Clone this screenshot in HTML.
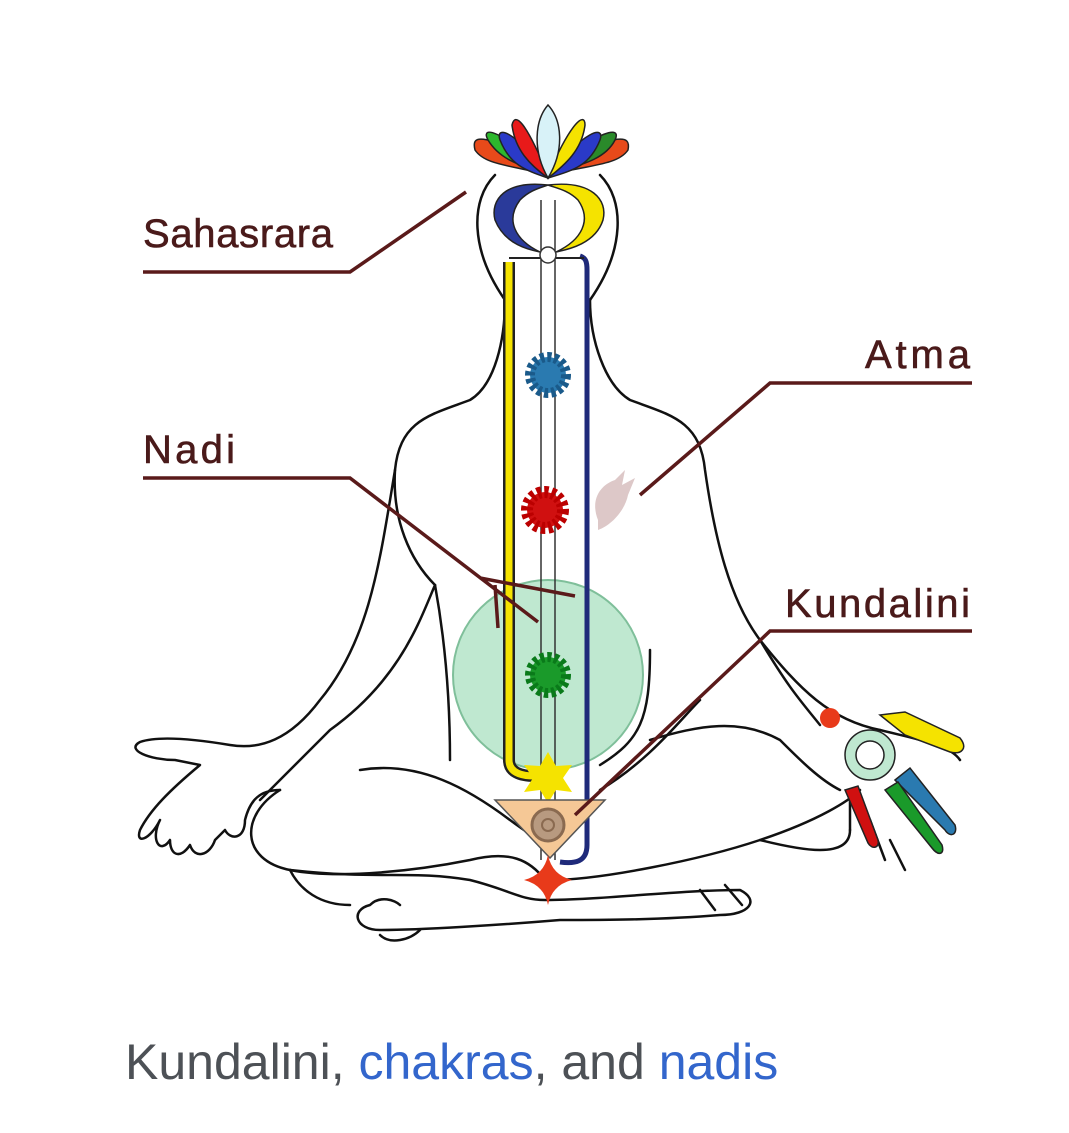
<!DOCTYPE html>
<html><head><meta charset="utf-8"><style>
html,body{margin:0;padding:0;background:#fff;width:1069px;height:1133px;overflow:hidden}
svg{position:absolute;left:0;top:0}
.cap{position:absolute;left:125px;top:1033px;font-family:"Liberation Sans",sans-serif;font-size:50px;color:#4d5156;white-space:nowrap}
.cap span{color:#3366cc}
</style></head><body>
<svg width="1069" height="1133" viewBox="0 0 1069 1133">
<g fill="none" stroke="#111" stroke-width="2.5" stroke-linejoin="round" stroke-linecap="round">
<path d="M505,300 C470,250 470,200 495,175 M590,300 C625,250 625,200 600,175"/>
<path d="M505,300 C505,340 495,385 470,400 C430,415 400,420 395,470 C392,520 410,560 435,585"/>
<path d="M590,300 C590,340 605,385 630,400 C670,415 700,420 705,470 C715,540 730,600 760,640 C800,690 830,720 880,730"/>
<path d="M395,470 C380,560 370,640 320,700 C290,740 260,750 230,745 C200,740 160,735 140,742 C125,750 150,760 175,760 L200,765 C170,790 150,810 140,830 C135,845 150,840 160,820 C150,840 160,855 170,840 C170,855 180,860 190,845 C195,860 210,855 215,840 L225,830 C230,840 245,840 245,820 C250,800 260,790 280,790"/>
<path d="M435,585 C420,620 400,680 330,730 C300,760 280,780 260,800"/>
<path d="M280,790 C240,815 240,860 290,870 C340,880 420,870 470,860 C510,850 530,860 545,880"/>
<path d="M360,770 C420,760 470,790 510,820 C530,835 540,840 545,845"/>
<path d="M600,790 C650,760 680,720 700,700"/>
<path d="M600,765 C640,740 650,720 650,650 M435,585 C445,640 450,700 450,760"/>
<path d="M550,880 C600,880 700,860 760,840 C820,820 850,800 860,790 M650,740 C700,725 740,718 780,740 C800,760 820,780 840,790"/>
<path d="M760,640 C790,690 800,700 820,725"/>
<path d="M880,730 C920,740 950,745 960,760 M850,800 L850,830 M870,820 L885,860 M890,840 L905,870"/>
<path d="M760,840 C800,850 850,860 850,830"/>
<path d="M290,870 C380,880 410,870 470,880 C510,890 520,900 545,900 C600,900 680,890 740,890 C760,900 750,915 720,915 C660,920 600,920 560,920 C500,925 420,930 380,930 C355,930 350,910 370,905 C380,895 395,900 400,905"/>
<path d="M290,870 C300,890 320,905 350,905 M380,935 C390,945 410,940 420,930 M700,890 L715,910 M725,885 L742,905"/>
</g>
<circle cx="548" cy="675" r="95" fill="#bfe8d0" stroke="#7fbf9a" stroke-width="2"/>
<path d="M509,262 L509,760 C509,772 520,776 535,776" stroke="#222" stroke-width="12" fill="none"/>
<path d="M509,262 L509,760 C509,772 520,776 535,776" stroke="#f5e300" stroke-width="7" fill="none"/>
<path d="M580,256 C586,258 587,262 587,270 L587,845 C587,862 575,864 560,862" stroke="#1f2a7a" stroke-width="5" fill="none"/>
<line x1="541" y1="200" x2="541" y2="860" stroke="#333" stroke-width="1.5"/>
<line x1="555" y1="200" x2="555" y2="860" stroke="#333" stroke-width="1.5"/>
<path d="M509,258 L584,258" stroke="#222" stroke-width="2"/>
<g stroke="#222" stroke-width="1.5">
<path d="M548,160 C490,140 470,130 475,150 C485,165 510,165 548,175Z" fill="#e84a1a"/>
<path d="M548,160 C610,140 632,130 628,150 C618,165 590,165 548,175Z" fill="#e84a1a"/>
<path d="M548,170 C500,130 480,125 488,140 C500,160 520,165 548,175Z" fill="#2db82d"/>
<path d="M548,170 C600,130 622,125 615,140 C605,160 580,165 548,175Z" fill="#2a8a2a"/>
<path d="M548,175 C515,130 495,125 500,140 C510,165 525,170 548,178Z" fill="#2a3ac8"/>
<path d="M548,175 C585,130 605,125 600,140 C590,165 575,170 548,178Z" fill="#2a3ac8"/>
<path d="M548,175 C525,120 515,112 512,125 C515,150 530,165 548,178Z" fill="#e81a1a"/>
<path d="M548,175 C572,120 585,112 585,125 C582,150 565,165 548,178Z" fill="#f5e300"/>
<path d="M548,178 C532,150 535,120 548,105 C562,120 565,150 548,178Z" fill="#d8f2f8"/>
<path d="M548,185 C505,180 490,200 495,220 C505,245 530,250 540,252 C515,240 505,220 520,200 C530,190 540,188 548,185Z" fill="#2a3a9a"/>
<path d="M548,185 C592,180 608,200 603,220 C595,245 565,250 556,252 C582,240 592,220 578,200 C568,190 556,188 548,185Z" fill="#f5e300"/>
</g>
<circle cx="548" cy="255" r="8" fill="#fff" stroke="#333" stroke-width="1.5"/>
<g stroke-width="2">
<circle cx="548" cy="375" r="18" fill="#2a7ab0" stroke="#1a5a8a" stroke-dasharray="4 3" stroke-width="10"/>
<circle cx="545" cy="510" r="18" fill="#d01010" stroke="#b00" stroke-dasharray="4 3" stroke-width="12"/>
<circle cx="548" cy="675" r="18" fill="#1a9a2a" stroke="#0a7a1a" stroke-dasharray="4 3" stroke-width="10"/>
</g>
<polygon points="548,752 556,766 572,765 563,778 572,792 556,790 548,803 540,790 524,792 533,778 524,765 540,766" fill="#f5e300"/>
<polygon points="495,800 605,800 550,858" fill="#f5c896" stroke="#555" stroke-width="1.5"/>
<circle cx="548" cy="825" r="16" fill="#b89a80" stroke="#8a6a50" stroke-width="3"/>
<circle cx="548" cy="825" r="6" fill="none" stroke="#8a6a50" stroke-width="2"/>
<path d="M548,855 Q552,875 572,880 Q552,885 548,905 Q544,885 524,880 Q544,875 548,855Z" fill="#e83a1a"/>
<path d="M598,520 C590,500 600,485 615,480 L625,470 L622,485 L635,478 L628,495 C625,510 612,525 598,530Z" fill="#ddc8c8"/>
<circle cx="830" cy="718" r="10" fill="#e83a1a"/>
<circle cx="870" cy="755" r="25" fill="#bfe8d0" stroke="#222" stroke-width="1.5"/>
<circle cx="870" cy="755" r="14" fill="#fff" stroke="#222" stroke-width="1.5"/>
<path d="M880,715 L905,712 L960,738 C968,748 962,755 950,752 L905,735Z" fill="#f5e300" stroke="#222" stroke-width="1.5"/>
<path d="M895,780 L910,768 L955,825 C958,835 950,838 945,830Z" fill="#2a7ab0" stroke="#222" stroke-width="1.5"/>
<path d="M885,790 L898,782 L942,845 C945,855 938,856 932,848Z" fill="#1a9a2a" stroke="#222" stroke-width="1.5"/>
<path d="M845,790 L858,786 L878,840 C880,848 872,850 868,843Z" fill="#d01010" stroke="#222" stroke-width="1.5"/>
<g stroke="#5a1a1a" stroke-width="3.5" fill="none">
<path d="M143,272 L350,272 L466,192"/>
<path d="M972,383 L770,383 L640,495"/>
<path d="M143,478 L350,478 L538,622 M480,578 L575,596 M495,585 L498,628"/>
<path d="M972,631 L770,631 L575,815"/>
</g>
<g font-family="Liberation Sans, sans-serif" font-size="40" fill="#4a1a1a" stroke="#4a1a1a" stroke-width="0.6">
<text x="143" y="247" textLength="190">Sahasrara</text>
<text x="865" y="368" textLength="105">Atma</text>
<text x="143" y="463" textLength="92">Nadi</text>
<text x="785" y="617" textLength="185">Kundalini</text>
</g>
</svg>
<div class="cap">Kundalini, <span>chakras</span>, and <span>nadis</span></div>
</body></html>
